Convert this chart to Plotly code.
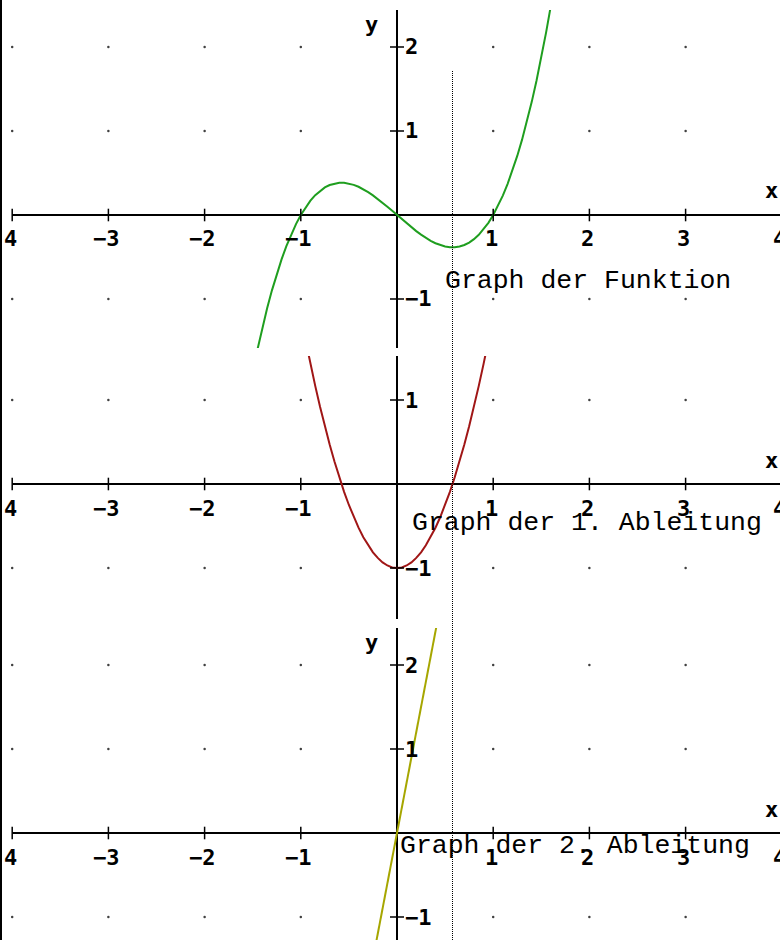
import plotly.graph_objects as go

W, H = 800, 940   # figure slightly wider than the 780px window so the right edge is cut like the reference

# ---- data ----
x_ticks = [-4, -3, -2, -1, 1, 2, 3, 4]
x_tick_labels = ["4", "−3", "−2", "−1", "1", "2", "3", "4"]

y_ticks_top = [2, 1, -1]
y_labels_top = ["2", "1", "−1"]
y_ticks_mid = [1, -1]
y_labels_mid = ["1", "−1"]
y_ticks_bot = [2, 1, -1]
y_labels_bot = ["2", "1", "−1"]

# Graph der Funktion
f_x = [-1.45, -1.40, -1.35, -1.30, -1.25, -1.20, -1.15, -1.10, -1.05, -1.00,
       -0.95, -0.90, -0.85, -0.80, -0.75, -0.70, -0.65, -0.60, -0.55, -0.50,
       -0.45, -0.40, -0.35, -0.30, -0.25, -0.20, -0.15, -0.10, -0.05, 0.00,
       0.05, 0.10, 0.15, 0.20, 0.25, 0.30, 0.35, 0.40, 0.45, 0.50,
       0.55, 0.60, 0.65, 0.70, 0.75, 0.80, 0.85, 0.90, 0.95, 1.00,
       1.05, 1.10, 1.15, 1.20, 1.25, 1.30, 1.35, 1.40, 1.45, 1.50, 1.55, 1.60]
f_y = [-1.599, -1.344, -1.110, -0.897, -0.703, -0.528, -0.371, -0.231, -0.108, 0.000,
       0.093, 0.171, 0.236, 0.288, 0.328, 0.357, 0.375, 0.384, 0.384, 0.375,
       0.359, 0.336, 0.307, 0.273, 0.234, 0.192, 0.147, 0.099, 0.050, 0.000,
       -0.050, -0.099, -0.147, -0.192, -0.234, -0.273, -0.307, -0.336, -0.359, -0.375,
       -0.384, -0.384, -0.375, -0.357, -0.328, -0.288, -0.236, -0.171, -0.093, 0.000,
       0.108, 0.231, 0.371, 0.528, 0.703, 0.897, 1.110, 1.344, 1.599, 1.875, 2.174, 2.496]

# Graph der 1. Ableitung
d1_x = [-0.95, -0.90, -0.85, -0.80, -0.75, -0.70, -0.65, -0.60, -0.55, -0.50,
        -0.45, -0.40, -0.35, -0.30, -0.25, -0.20, -0.15, -0.10, -0.05, 0.00,
        0.05, 0.10, 0.15, 0.20, 0.25, 0.30, 0.35, 0.40, 0.45, 0.50,
        0.55, 0.60, 0.65, 0.70, 0.75, 0.80, 0.85, 0.90, 0.95]
d1_y = [1.708, 1.430, 1.168, 0.920, 0.688, 0.470, 0.268, 0.080, -0.093, -0.250,
        -0.393, -0.520, -0.633, -0.730, -0.813, -0.880, -0.933, -0.970, -0.993, -1.000,
        -0.993, -0.970, -0.933, -0.880, -0.813, -0.730, -0.633, -0.520, -0.393, -0.250,
        -0.093, 0.080, 0.268, 0.470, 0.688, 0.920, 1.168, 1.430, 1.708]

# Graph der 2. Ableitung
d2_x = [-0.25, 0.00, 0.41]
d2_y = [-1.50, 0.00, 2.46]

marker_x = 0.577  # dotted vertical line

texts = ["Graph der Funktion", "Graph der 1. Ableitung", "Graph der 2. Ableitung"]
text_pos = [(0.48, -0.79), (0.14, -0.46), (0.015, -0.15)]

GREEN = "#1f9e1f"
RED = "#a01616"
OLIVE = "#a6a600"

# ---- layout geometry (pixels) ----
def px2paper(p):
    return (H - p) / H

X0_PX, X_UNIT = 397.0, 96.2
X_RANGE = [-X0_PX / X_UNIT, (W - X0_PX) / X_UNIT]
panels = [
    # (pix top, pix bottom, pix of y=0, px per unit)
    (10, 348, 215.0, 84.0),
    (356, 619, 484.0, 84.0),
    (628, 940, 833.0, 84.0),
]

fig = go.Figure()

ynames = ["y", "y2", "y3"]
xnames = ["x", "x2", "x3"]
yticks_all = [y_ticks_top, y_ticks_mid, y_ticks_bot]
ylabels_all = [y_labels_top, y_labels_mid, y_labels_bot]

layout = dict(
    width=W, height=H,
    margin=dict(l=0, r=0, t=0, b=0),
    paper_bgcolor="white", plot_bgcolor="white",
    showlegend=False,
    hovermode=False,
)

for i, (pt, pb, p0, u) in enumerate(panels):
    xk = "xaxis" if i == 0 else f"xaxis{i+1}"
    yk = "yaxis" if i == 0 else f"yaxis{i+1}"
    layout[xk] = dict(domain=[0, 1], range=X_RANGE, anchor=ynames[i],
                      showgrid=False, showticklabels=False, ticks="",
                      showline=False, zeroline=True, zerolinecolor="black",
                      zerolinewidth=2, fixedrange=True)
    if i > 0:
        layout[xk]["matches"] = "x"
    layout[yk] = dict(domain=[px2paper(pb), px2paper(pt)],
                      range=[-(pb - p0) / u, (p0 - pt) / u], anchor=xnames[i],
                      showgrid=False, showticklabels=False, ticks="",
                      showline=False, zeroline=False, fixedrange=True)

fig.update_layout(**layout)

# grid dots
for i in range(3):
    gx, gy = [], []
    for yv in yticks_all[i]:
        for xv in x_ticks:
            gx.append(xv)
            gy.append(yv)
    fig.add_trace(go.Scatter(x=gx, y=gy, mode="markers", xaxis=xnames[i], yaxis=ynames[i],
                             marker=dict(size=2.5, color="#404040"), hoverinfo="skip"))

# curves
fig.add_trace(go.Scatter(x=f_x, y=f_y, mode="lines", xaxis="x", yaxis="y",
                         line=dict(color=GREEN, width=2), hoverinfo="skip"))
fig.add_trace(go.Scatter(x=d1_x, y=d1_y, mode="lines", xaxis="x2", yaxis="y2",
                         line=dict(color=RED, width=2), hoverinfo="skip"))
fig.add_trace(go.Scatter(x=d2_x, y=d2_y, mode="lines", xaxis="x3", yaxis="y3",
                         line=dict(color=OLIVE, width=2), hoverinfo="skip"))

# tick marks
for i in range(3):
    fig.add_trace(go.Scatter(x=x_ticks, y=[0] * len(x_ticks), mode="markers",
                             xaxis=xnames[i], yaxis=ynames[i], cliponaxis=False,
                             marker=dict(symbol="line-ns", size=9,
                                         line=dict(width=1.5, color="black")),
                             hoverinfo="skip"))
    fig.add_trace(go.Scatter(x=[0] * len(yticks_all[i]), y=yticks_all[i], mode="markers",
                             xaxis=xnames[i], yaxis=ynames[i], cliponaxis=False,
                             marker=dict(symbol="line-ew", size=10,
                                         line=dict(width=1.5, color="black")),
                             hoverinfo="skip"))

shapes = []
# horizontal axes
for i in range(3):
    shapes.append(dict(type="line", xref=xnames[i], yref=ynames[i],
                       x0=x_ticks[0], x1=X_RANGE[1], y0=0, y1=0,
                       line=dict(color="black", width=2), layer="below"))
# left border
shapes.append(dict(type="line", xref="paper", yref="paper", x0=1 / W, x1=1 / W, y0=0, y1=1,
                   line=dict(color="black", width=2)))
# dotted vertical line
shapes.append(dict(type="line", xref="x", yref="paper", x0=marker_x, x1=marker_x,
                   y0=0, y1=px2paper(71), line=dict(color="black", width=1, dash="1px,1px"),
                   layer="above"))
fig.update_layout(shapes=shapes)

ann = []
TICKFONT = dict(family="DejaVu Sans Mono", size=22, color="black", weight="bold")
for i in range(3):
    for xv, lab in zip(x_ticks, x_tick_labels):
        ann.append(dict(x=xv, y=0, xref=xnames[i], yref=ynames[i], text=lab,
                        showarrow=False, xanchor="center", yanchor="middle",
                        xshift=-2, yshift=-24, font=TICKFONT))
    for yv, lab in zip(yticks_all[i], ylabels_all[i]):
        ann.append(dict(x=0, y=yv, xref=xnames[i], yref=ynames[i], text=lab,
                        showarrow=False, xanchor="left", yanchor="middle",
                        xshift=6, yshift=0, font=TICKFONT))
    # "x" label
    ann.append(dict(x=771 / W, y=0, xref="paper", yref=ynames[i], text="x",
                    showarrow=False, xanchor="center", yanchor="middle",
                    yshift=24, font=TICKFONT))
# "y" labels (top and bottom panels)
for i, ys in [(0, -15), (2, -14)]:
    ann.append(dict(x=0, y=1, xref=xnames[i], yref=f"{ynames[i]} domain", text="y",
                    showarrow=False, xanchor="center", yanchor="middle",
                    xshift=-26, yshift=ys, font=TICKFONT))

TEXTFONT = dict(family="Liberation Mono", size=26.5, color="black")
for i, (t, (tx, ty)) in enumerate(zip(texts, text_pos)):
    ann.append(dict(x=tx, y=ty, xref=xnames[i], yref=ynames[i], text=t,
                    showarrow=False, xanchor="left", yanchor="middle",
                    font=TEXTFONT))

fig.update_layout(annotations=ann)

fig.write_html("out.html", config={"displayModeBar": False, "staticPlot": True},
               post_script="document.body.style.margin='0';document.body.style.overflow='hidden';")
